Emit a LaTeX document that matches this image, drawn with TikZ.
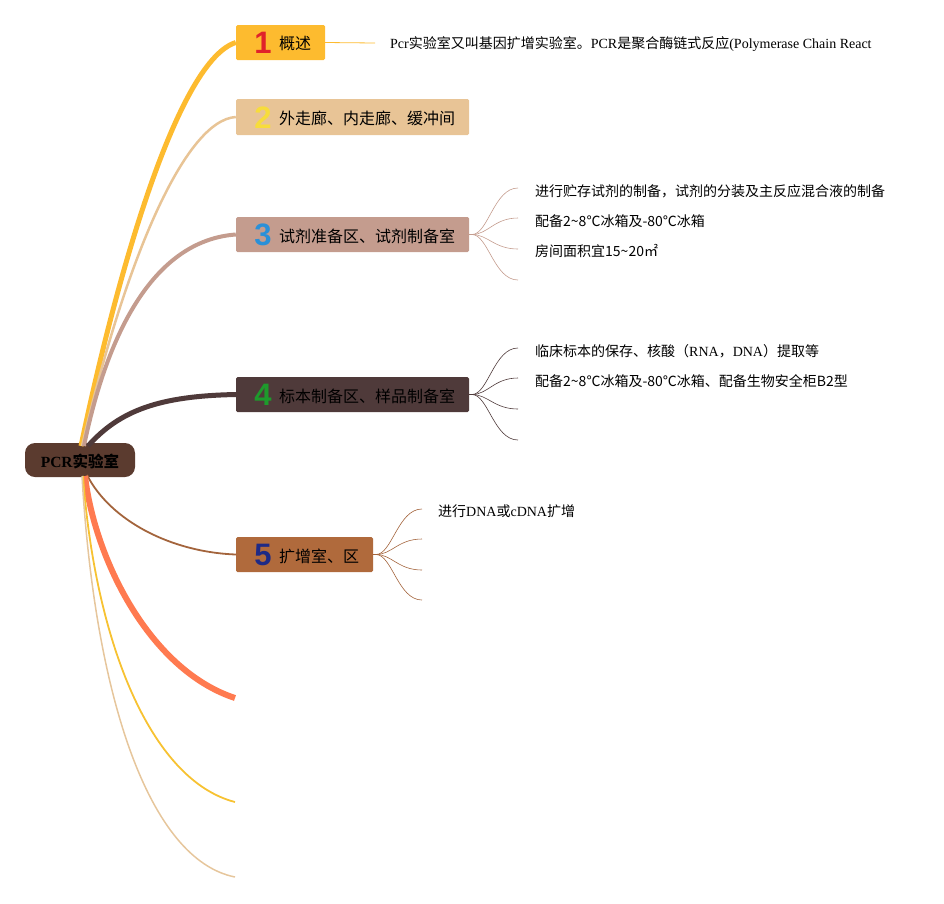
\documentclass[tikz,border=0pt]{standalone}
\usepackage{fontspec}
\setmainfont{Liberation Serif}
\newfontfamily\cjk{Noto Sans CJK SC}
\newfontfamily\numfont{Liberation Sans}
\usetikzlibrary{calc}
\definecolor{cA}{HTML}{FDBB2F}
\definecolor{cB}{HTML}{E8C496}
\definecolor{cC}{HTML}{C49C8E}
\definecolor{cD}{HTML}{4F3A3A}
\definecolor{cE}{HTML}{B06A3C}
\definecolor{cEl}{HTML}{A3643C}
\definecolor{cRoot}{HTML}{5B3B2F}
\definecolor{cOr}{HTML}{FF7A50}
\definecolor{cYl}{HTML}{F7C232}
\definecolor{cTn}{HTML}{E6C69C}
\definecolor{nRed}{HTML}{E0222A}
\definecolor{nYel}{HTML}{F7DC3C}
\definecolor{nBlu}{HTML}{2A90D8}
\definecolor{nGrn}{HTML}{1E9A2C}
\definecolor{nNav}{HTML}{1E2A86}
\tikzset{
  topic/.style={rectangle, rounded corners=1.5pt, inner sep=0pt, anchor=center},
  numlbl/.style={font=\numfont\bfseries\fontsize{31}{31}\selectfont, inner sep=0pt, anchor=center},
  toptxt/.style={font=\cjk\fontsize{16}{16}\selectfont, inner sep=0pt, anchor=west, text=black},
  subtxt/.style={font=\fontsize{14}{15}\selectfont, inner sep=0pt, anchor=west, text=black},
  sub/.style={line width=0.6pt},
}
\begin{document}
\begin{tikzpicture}[x=1pt,y=-1pt]
\useasboundingbox (0,0) rectangle (944,903);
% root
\node[rectangle, rounded corners=10pt, fill=cRoot, minimum width=110pt, minimum height=34pt, inner sep=0pt] (root) at (80,460) {};
\node[inner sep=0pt, font=\bfseries\fontsize{15.5}{15.5}\selectfont] (roottxt) at (80,461) {PCR{\cjk\bfseries 实验室}};
\coordinate (rs1) at (81,446);
\coordinate (rs2) at (82,446);
\coordinate (rs3) at (84,446);
\coordinate (rs4) at (88,446);
\coordinate (rs5) at (87,475);
\coordinate (rs6) at (85,476);
\coordinate (rs7) at (83,476);
\coordinate (rs8) at (82,476);
% topic boxes
\node[topic, fill=cA, minimum width=89pt, minimum height=35pt] (t1) at (280.5,42.5) {};
\node[topic, fill=cB, minimum width=233pt, minimum height=36pt] (t2) at (352.5,117) {};
\node[topic, fill=cC, minimum width=233pt, minimum height=35pt] (t3) at (352.5,234.5) {};
\node[topic, fill=cD, minimum width=233pt, minimum height=35pt] (t4) at (352.5,394.5) {};
\node[topic, fill=cE, minimum width=137pt, minimum height=35pt] (t5) at (304.5,554.5) {};
% numbers
\node[numlbl, text=nRed] (n1) at (263,43) {1};
\node[numlbl, text=nYel] (n2) at (263,118) {2};
\node[numlbl, text=nBlu] (n3) at (263,235) {3};
\node[numlbl, text=nGrn] (n4) at (263,395) {4};
\node[numlbl, text=nNav] (n5) at (263,555) {5};
% topic texts
\node[toptxt] (x1) at (279,43) {概述};
\node[toptxt] (x2) at (279,118) {外走廊、内走廊、缓冲间};
\node[toptxt] (x3) at (279,236) {试剂准备区、试剂制备室};
\node[toptxt] (x4) at (279,396) {标本制备区、样品制备室};
\node[toptxt] (x5) at (279,556) {扩增室、区};
% main branches
\draw[cA, line width=5pt] (rs1) .. controls (120,260) and (180,60) .. (t1.west);
\draw[cB, line width=2.5pt] (rs2) .. controls (125,260) and (185,120) .. (t2.west);
\draw[cC, line width=4pt] (rs3) .. controls (110,320) and (160,240) .. (t3.west);
\draw[cD, line width=5pt] (rs4) .. controls (120,410) and (160,396) .. (t4.west);
\draw[cEl, line width=1.8pt] (rs5) .. controls (110,520) and (170,552) .. (t5.west);
\coordinate (e6) at (235,698);
\coordinate (e7) at (235,802);
\coordinate (e8) at (235,877);
\draw[cOr, line width=6pt] (rs6) .. controls (95,560) and (150,670) .. (e6);
\draw[cYl, line width=1.8pt] (rs7) .. controls (95,640) and (150,780) .. (e7);
\draw[cTn, line width=1.5pt] (rs8) .. controls (95,700) and (150,860) .. (e8);
% topic 1 detail
\coordinate (d1) at (375,43);
\draw[cA, line width=0.8pt] (t1.east) -- (d1);
\node[subtxt] (s1) at (390,44) {Pcr{\cjk 实验室又叫基因扩增实验室。}PCR{\cjk 是聚合酶链式反应}(Polymerase Chain React};
% topic 3 details
\coordinate (o3) at (472,234.5);
\coordinate (e31) at (518,188);
\coordinate (e32) at (518,218);
\coordinate (e33) at (518,249);
\coordinate (e34) at (518,280);
\foreach \e in {e31,e32,e33,e34}
  \draw[cC, sub] (t3.east) -- (o3) .. controls ($(o3)+(16,0)$) and ($(\e)+(-24,0)$) .. (\e);
\node[subtxt] (s31) at (535,191) {\cjk 进行贮存试剂的制备，试剂的分装及主反应混合液的制备};
\node[subtxt] (s32) at (535,221) {\cjk 配备2\textasciitilde8℃冰箱及-80℃冰箱};
\node[subtxt] (s33) at (535,251) {\cjk 房间面积宜15\textasciitilde20㎡};
% topic 4 details
\coordinate (o4) at (472,394.5);
\coordinate (e41) at (518,348);
\coordinate (e42) at (518,378);
\coordinate (e43) at (518,409);
\coordinate (e44) at (518,440);
\foreach \e in {e41,e42,e43,e44}
  \draw[cD, sub] (t4.east) -- (o4) .. controls ($(o4)+(16,0)$) and ($(\e)+(-24,0)$) .. (\e);
\node[subtxt] (s41) at (535,351) {{\cjk 临床标本的保存、核酸（}RNA{\cjk ，}DNA{\cjk ）提取等}};
\node[subtxt] (s42) at (535,381) {\cjk 配备2\textasciitilde8℃冰箱及-80℃冰箱、配备生物安全柜B2型};
% topic 5 details
\coordinate (o5) at (376,554.5);
\coordinate (e51) at (422,509);
\coordinate (e52) at (422,539);
\coordinate (e53) at (422,570);
\coordinate (e54) at (422,600);
\foreach \e in {e51,e52,e53,e54}
  \draw[cEl, sub] (t5.east) -- (o5) .. controls ($(o5)+(16,0)$) and ($(\e)+(-24,0)$) .. (\e);
\node[subtxt] (s51) at (438,511) {{\cjk 进行}DNA{\cjk 或}cDNA{\cjk 扩增}};
\end{tikzpicture}
\end{document}
